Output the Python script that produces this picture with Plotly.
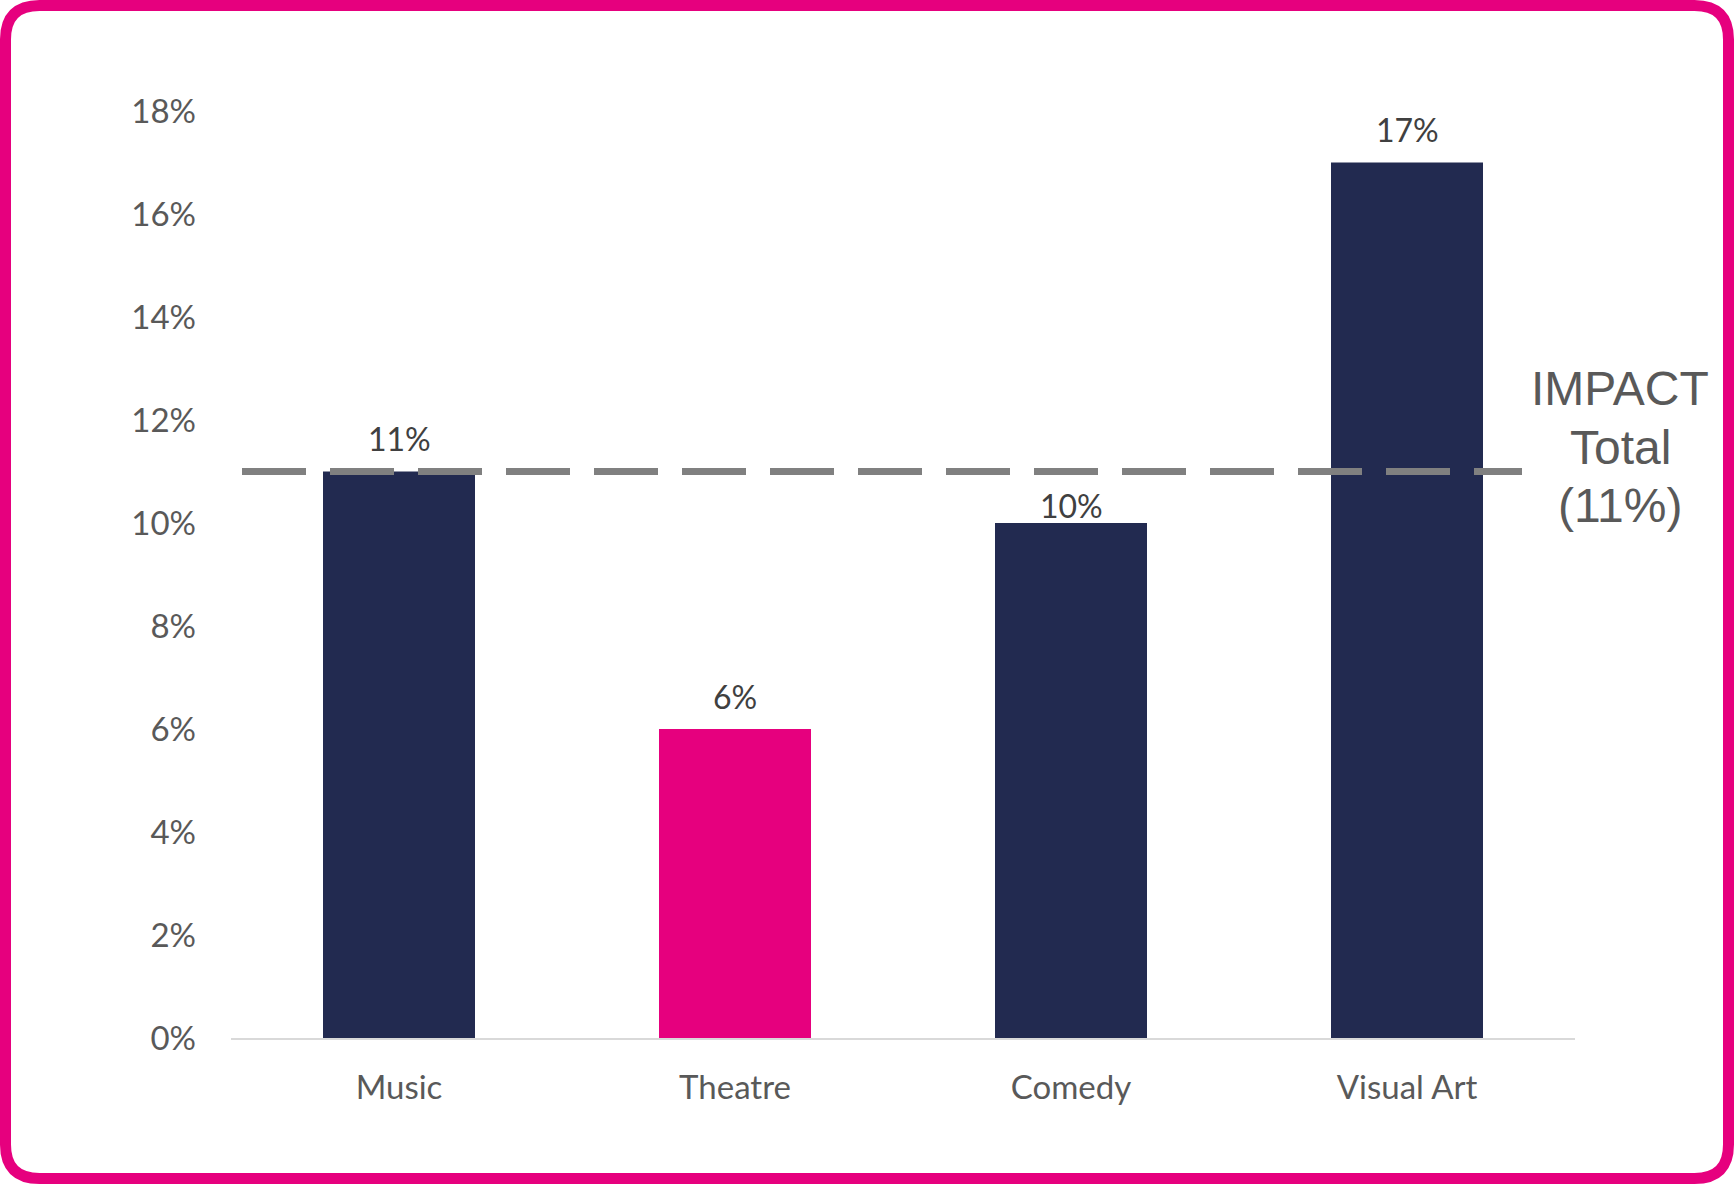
import plotly.graph_objects as go

categories = ["Music", "Theatre", "Comedy", "Visual Art"]
values = [11, 6, 10, 17]
bar_colors = ["#222A50", "#E6007E", "#222A50", "#222A50"]
value_labels = ["11%", "6%", "10%", "17%"]
label_offsets = [33, 33, 18, 33]
impact_total = 11
impact_lines = ["IMPACT", "Total", "(11%)"]
y_tickvals = [0, 2, 4, 6, 8, 10, 12, 14, 16, 18]
y_ticktext = ["0%", "2%", "4%", "6%", "8%", "10%", "12%", "14%", "16%", "18%"]

W, H = 1734, 1184
ML, MR, MT, MB = 231, 159, 111, 146
PW, PH = W - ML - MR, H - MT - MB

def px(x):
    return (x - ML) / PW

def py(y):
    return (H - MB - y) / PH

fig = go.Figure()
fig.add_trace(go.Bar(
    x=categories, y=values, marker=dict(color=bar_colors, line=dict(width=0)),
    showlegend=False, hoverinfo="skip",
))

for c, v, t, o in zip(categories, values, value_labels, label_offsets):
    fig.add_annotation(x=c, y=v, text=t, showarrow=False, yanchor="middle",
                       yshift=o, font=dict(family="Lato", size=32, color="#404040"))

# IMPACT total dashed line
fig.add_shape(type="line", xref="paper", yref="y",
              x0=px(242), x1=px(1522), y0=impact_total, y1=impact_total,
              line=dict(color="#808080", width=7, dash="64px,24px"))
for i, line in enumerate(impact_lines):
    fig.add_annotation(xref="paper", yref="paper", x=px(1620), y=py(389 + 58 * i),
                       text=line, showarrow=False, xanchor="center", yanchor="middle",
                       font=dict(family="Liberation Sans", size=48, color="#595959"))

# rounded border
b = 5.5
r = 34
x0, x1, y0, y1 = b, W - b, b, H - b
pts = [
    ("M", [(x0 + r, y0)]),
    ("L", [(x1 - r, y0)]),
    ("Q", [(x1, y0), (x1, y0 + r)]),
    ("L", [(x1, y1 - r)]),
    ("Q", [(x1, y1), (x1 - r, y1)]),
    ("L", [(x0 + r, y1)]),
    ("Q", [(x0, y1), (x0, y1 - r)]),
    ("L", [(x0, y0 + r)]),
    ("Q", [(x0, y0), (x0 + r, y0)]),
]
path = ""
for cmd, ps in pts:
    path += cmd + " " + " ".join(f"{px(a):.6f},{py(bb):.6f}" for a, bb in ps) + " "
path += "Z"
fig.add_shape(type="path", xref="paper", yref="paper", path=path,
              line=dict(color="#E6007E", width=11), layer="above")

fig.update_layout(
    width=W, height=H,
    margin=dict(l=ML, r=MR, t=MT, b=MB, pad=0),
    paper_bgcolor="white", plot_bgcolor="white",
    bargap=0.5476,
    font=dict(family="Lato", size=33, color="#595959"),
    xaxis=dict(showgrid=False, showline=True, linecolor="#D9D9D9", linewidth=2,
               ticks="", ticklabelstandoff=19, tickfont=dict(size=33, color="#595959"),
               fixedrange=True),
    yaxis=dict(range=[0, 18], showgrid=False, zeroline=False, showline=False,
               tickvals=y_tickvals, ticktext=y_ticktext, ticklabelstandoff=34,
               tickfont=dict(size=33, color="#595959"), fixedrange=True),
)

fig.write_html(
    "out.html",
    config={"displayModeBar": False},
    post_script="document.body.style.margin='0';document.body.style.overflow='hidden';",
)
